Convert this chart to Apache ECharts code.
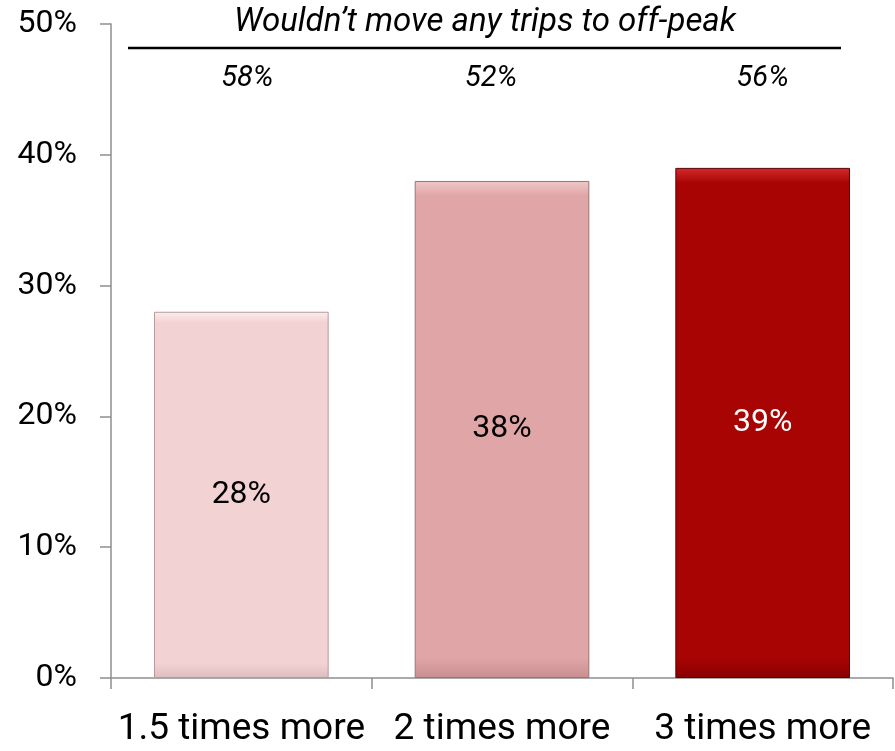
<!DOCTYPE html>
<html>
<head>
<meta charset="utf-8">
<script src="https://cdn.jsdelivr.net/npm/echarts@6/dist/echarts.min.js"></script>
<style>
  html, body { margin: 0; padding: 0; background: #ffffff; }
  #chart { width: 895px; height: 751px; }
</style>
</head>
<body>
<div id="chart"></div>
<script>
// Share willing to shift trips, by how much more peak travel would cost
const categories = ['1.5 times more', '2 times more', '3 times more'];
const shareValues = [28, 38, 39];
// Share who wouldn't move any trips to off-peak
const noMoveLabels = ['58%', '52%', '56%'];
const yTicks = [0, 10, 20, 30, 40, 50];

const headerText = 'Wouldn\u2019t move any trips to off-peak';

const FONT = 'Roboto, "DejaVu Sans", sans-serif';
const barColors = [
  { base: '#f2d2d3', light: '#fbeeee', dark: '#dcbcbc', border: '#b89a9b', text: '#000000' },
  { base: '#e0a5a6', light: '#f0c8c9', dark: '#c98f90', border: '#9a7475', text: '#000000' },
  { base: '#a80404', light: '#d42a2a', dark: '#8a0000', border: '#5a0000', text: '#ffffff' }
];

// height of the "wouldn't move" row, in axis units
const headerRowLevel = 45.8;
const headerOffsets = [[6, 0], [-11, 0], [0, 0]];

const chart = echarts.init(document.getElementById('chart'), null, { renderer: 'canvas' });

const barData = shareValues.map((v, i) => {
  const c = barColors[i];
  return {
    value: v,
    itemStyle: {
      color: new echarts.graphic.LinearGradient(0, 0, 0, 1, [
        { offset: 0, color: c.light },
        { offset: 0.03, color: c.base },
        { offset: 0.96, color: c.base },
        { offset: 1, color: c.dark }
      ]),
      borderColor: c.border,
      borderWidth: 1
    },
    label: { color: c.text }
  };
});

const headerData = noMoveLabels.map((t, i) => ({
  value: [i, headerRowLevel],
  label: { formatter: t, offset: headerOffsets[i] }
}));

chart.setOption({
  animation: false,
  backgroundColor: '#ffffff',
  grid: { left: 111, right: 2, top: 24, bottom: 73, containLabel: false },
  xAxis: {
    type: 'category',
    data: categories,
    boundaryGap: true,
    axisLine: { show: true, lineStyle: { color: '#8f8f8f', width: 1.5 } },
    axisTick: { show: true, length: 11, alignWithLabel: false, lineStyle: { color: '#8f8f8f', width: 1.5 } },
    axisLabel: { fontFamily: FONT, fontSize: 37, color: '#000000', margin: 33, interval: 0 },
    splitLine: { show: false }
  },
  yAxis: {
    type: 'value',
    min: yTicks[0],
    max: yTicks[yTicks.length - 1],
    interval: yTicks[1] - yTicks[0],
    axisLine: { show: true, lineStyle: { color: '#8f8f8f', width: 1.5 } },
    axisTick: { show: true, length: 11, inside: false, lineStyle: { color: '#8f8f8f', width: 1.5 } },
    axisLabel: { fontFamily: FONT, fontSize: 32, color: '#000000', margin: 34, formatter: '{value}%' },
    splitLine: { show: false }
  },
  series: [
    {
      type: 'bar',
      data: barData,
      barWidth: '67%',
      label: {
        show: true,
        position: 'inside',
        fontFamily: FONT,
        fontSize: 32,
        formatter: '{c}%'
      }
    },
    {
      type: 'scatter',
      data: headerData,
      symbol: 'circle',
      symbolSize: 2,
      itemStyle: { color: 'rgba(255,255,255,0)', opacity: 1 },
      silent: true,
      z: 5,
      label: {
        show: true,
        position: 'inside',
        fontFamily: FONT,
        fontStyle: 'italic',
        fontSize: 29,
        color: '#000000',
        opacity: 1
      }
    }
  ],
  graphic: [
    {
      type: 'text',
      x: 485,
      y: 23,
      style: {
        text: headerText,
        fontFamily: FONT,
        fontStyle: 'italic',
        fontSize: 33,
        fill: '#000000',
        textAlign: 'center',
        textVerticalAlign: 'middle'
      }
    },
    {
      type: 'line',
      shape: { x1: 128, y1: 48, x2: 841, y2: 48 },
      style: { stroke: '#000000', lineWidth: 2.5 }
    }
  ]
});
</script>
</body>
</html>
